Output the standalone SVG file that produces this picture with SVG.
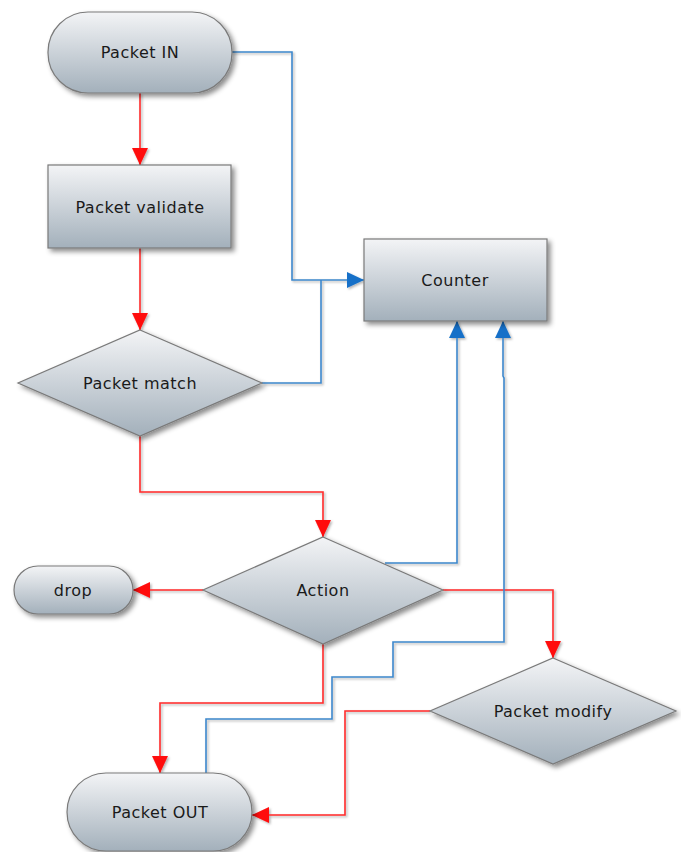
<svg xmlns="http://www.w3.org/2000/svg" width="681" height="852" viewBox="0 0 681 852">
<defs>
<linearGradient id="g" x1="0" y1="0" x2="0" y2="1">
<stop offset="0" stop-color="#f3f4f6"/>
<stop offset="1" stop-color="#a3b0bb"/>
</linearGradient>
<filter id="sh" x="-20%" y="-20%" width="150%" height="150%">
<feDropShadow dx="3" dy="3" stdDeviation="2.5" flood-color="#000" flood-opacity="0.45"/>
</filter>
<filter id="lsh" filterUnits="userSpaceOnUse" x="0" y="0" width="681" height="852">
<feDropShadow dx="1.5" dy="1.5" stdDeviation="1" flood-color="#000" flood-opacity="0.3"/>
</filter>
<marker id="ar" markerWidth="18" markerHeight="18" refX="17" refY="8" orient="auto" markerUnits="userSpaceOnUse">
<path d="M0,0 L17,8 L0,16 Z" fill="#ff0a0a"/>
</marker>
<marker id="ab" markerWidth="18" markerHeight="18" refX="17" refY="8" orient="auto" markerUnits="userSpaceOnUse">
<path d="M0,0 L17,8 L0,16 Z" fill="#1570c8"/>
</marker>
<style>
.n{fill:url(#g);stroke:#7a7a7a;stroke-width:1.2;filter:url(#sh)}
.t{font-family:"DejaVu Sans",Verdana,sans-serif;font-size:16px;letter-spacing:0.5px;fill:#1a1a1a;text-anchor:middle;dominant-baseline:central}
.r{fill:none;stroke:#ff2a2a;stroke-width:1.6}
.b{fill:none;stroke:#3d88cc;stroke-width:1.6}
</style>
</defs>
<g id="connectors" filter="url(#lsh)">
<path class="r" d="M140,93 V165" marker-end="url(#ar)"/>
<path class="r" d="M140,248 V330" marker-end="url(#ar)"/>
<path class="r" d="M140,436 V492 H323 V537" marker-end="url(#ar)"/>
<path class="r" d="M203,590 H133" marker-end="url(#ar)"/>
<path class="r" d="M443,590 H553 V658" marker-end="url(#ar)"/>
<path class="r" d="M323,644 V703 H160 V773" marker-end="url(#ar)"/>
<path class="r" d="M430,711 H345 V815 H252" marker-end="url(#ar)"/>
<path class="b" d="M232,52 H292 V280 H364" marker-end="url(#ab)"/>
<path class="b" d="M262,383 H321 V280"/>
<path class="b" d="M385,563 H457 V321" marker-end="url(#ab)"/>
<path class="b" d="M206,773 V719 H332 V677 H393 V642 H504 V378 L503,376 V321" marker-end="url(#ab)"/>
</g>
<g id="packet-in">
<rect class="n" x="48" y="12" width="184" height="81" rx="40" ry="40"/>
<text class="t" x="140" y="52">Packet IN</text>
</g>
<g id="packet-validate">
<rect class="n" x="48" y="165" width="183" height="83"/>
<text class="t" x="140" y="207">Packet validate</text>
</g>
<g id="packet-match">
<polygon class="n" points="140,330 262,383 140,436 18,383"/>
<text class="t" x="140" y="383">Packet match</text>
</g>
<g id="counter">
<rect class="n" x="364" y="239" width="183" height="82"/>
<text class="t" x="455" y="280">Counter</text>
</g>
<g id="action">
<polygon class="n" points="323,537 443,590 323,644 203,590"/>
<text class="t" x="323" y="590">Action</text>
</g>
<g id="drop">
<rect class="n" x="14" y="566" width="119" height="48" rx="24" ry="24"/>
<text class="t" x="73" y="590">drop</text>
</g>
<g id="packet-modify">
<polygon class="n" points="553,658 676,711 553,764 430,711"/>
<text class="t" x="553" y="711">Packet modify</text>
</g>
<g id="packet-out">
<rect class="n" x="67" y="773" width="185" height="78" rx="39" ry="39"/>
<text class="t" x="160" y="812">Packet OUT</text>
</g>
</svg>
